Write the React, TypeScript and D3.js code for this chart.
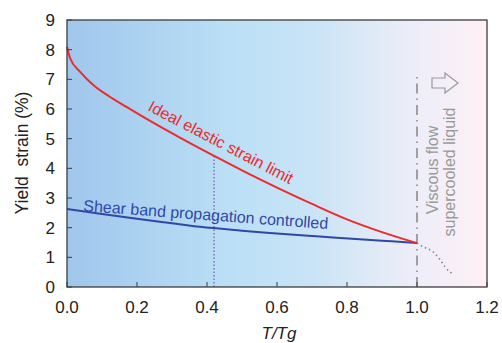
import React from "react";
import * as d3 from "d3";

const xTicks = [0, 0.2, 0.4, 0.6, 0.8, 1.0, 1.2];
const yTicks = [0, 1, 2, 3, 4, 5, 6, 7, 8, 9];

// ideal elastic strain limit (red)
const idealX = [0, 0.009, 0.037, 0.075, 0.12, 0.17, 0.22, 0.27, 0.32, 0.37, 0.42, 0.5, 0.6, 0.7, 0.8, 0.9, 1.0];
const idealY = [8.1, 7.71, 7.26, 6.81, 6.43, 6.07, 5.72, 5.38, 5.05, 4.73, 4.42, 3.93, 3.35, 2.8, 2.28, 1.85, 1.48];

// shear band propagation controlled (blue)
const shearX = [0, 0.1, 0.2, 0.3, 0.38, 0.5, 0.57, 0.7, 0.76, 0.9, 1.0];
const shearY = [2.63, 2.46, 2.3, 2.15, 2.03, 1.9, 1.83, 1.72, 1.67, 1.56, 1.48];

// supercooled liquid (grey dotted)
const liquidX = [1.0, 1.017, 1.046, 1.066, 1.08, 1.094, 1.103];
const liquidY = [1.48, 1.36, 1.18, 0.92, 0.68, 0.51, 0.44];

const markerX = 0.42;
const tgX = 1.0;
const tgTop = 7.15;

export default function App() {
  const left = 67, right = 487, top = 20, bottom = 287;
  const x = d3.scaleLinear().domain([0, 1.2]).range([left, right]);
  const y = d3.scaleLinear().domain([0, 9]).range([bottom, top]);

  const line = d3
    .line<[number, number]>()
    .x((d) => x(d[0]))
    .y((d) => y(d[1]))
    .curve(d3.curveMonotoneX);

  const pts = (xs: number[], ys: number[]) => xs.map((v, i) => [v, ys[i]] as [number, number]);

  const font = "Liberation Sans, Arial, Helvetica, sans-serif";
  const markerTop = idealY[idealX.indexOf(markerX)];

  return (
    <svg width={502} height={343} style={{ position: "absolute", left: 0, top: 0 }} fontFamily={font}>
      <defs>
        <linearGradient id="bg" x1="0" x2="1" y1="0" y2="0">
          <stop offset="0" stopColor="#a0c7ec" />
          <stop offset="0.4" stopColor="#bbe0f6" />
          <stop offset="0.6" stopColor="#cbe4f6" />
          <stop offset="0.75" stopColor="#e3ebf7" />
          <stop offset="0.85" stopColor="#efeef9" />
          <stop offset="1" stopColor="#fff0f4" />
        </linearGradient>
      </defs>
      <rect x={left} y={top} width={right - left} height={bottom - top} fill="url(#bg)" />

      {/* marker at 0.42 */}
      <line x1={x(markerX)} x2={x(markerX)} y1={y(0)} y2={y(markerTop)} stroke="#6a3d9a" strokeWidth={1} strokeDasharray="1.5,2" />

      {/* Tg line */}
      <line x1={x(tgX)} x2={x(tgX)} y1={y(0)} y2={y(tgTop)} stroke="#8c8c8c" strokeWidth={1.6} strokeDasharray="10,5,1.5,5" />

      <path d={line(pts(liquidX, liquidY)) || ""} fill="none" stroke="#888" strokeWidth={1.6} strokeDasharray="1.5,3" />
      <path d={line(pts(shearX, shearY)) || ""} fill="none" stroke="#3047a8" strokeWidth={2} />
      <path d={line(pts(idealX, idealY)) || ""} fill="none" stroke="#ee2a2a" strokeWidth={2} />

      {/* frame */}
      <rect x={left} y={top} width={right - left} height={bottom - top} fill="none" stroke="#3c3c3c" strokeWidth={1.3} />

      {xTicks.map((t) => (
        <g key={"x" + t}>
          <line x1={x(t)} x2={x(t)} y1={bottom} y2={bottom - 5} stroke="#3c3c3c" />
          <text x={x(t)} y={bottom + 26} fontSize={17} textAnchor="middle" fill="#222">{t.toFixed(1)}</text>
        </g>
      ))}
      {yTicks.map((t) => (
        <g key={"y" + t}>
          <line x1={left} x2={left + 5} y1={y(t)} y2={y(t)} stroke="#3c3c3c" />
          <text x={left - 12} y={y(t) + 6} fontSize={17} textAnchor="end" fill="#222">{t}</text>
        </g>
      ))}

      <text x={279} y={339} fontSize={17} textAnchor="middle" fontStyle="italic" fill="#222">T/Tg</text>
      <text transform="translate(28,153) rotate(-90)" fontSize={17.5} textAnchor="middle" fill="#222" style={{ whiteSpace: "pre" }}>Yield  strain (%)</text>

      <text transform="translate(147,110) rotate(27.5)" fontSize={16} fill="#ee2a2a">Ideal elastic strain limit</text>
      <text transform="translate(83,211) rotate(4.2)" fontSize={16} fill="#3047a8">Shear band propagation controlled</text>

      <text transform="translate(438,170) rotate(-90)" fontSize={16} textAnchor="middle" fill="#9a9a9a">Viscous flow</text>
      <text transform="translate(455,172) rotate(-90)" fontSize={16} textAnchor="middle" fill="#9a9a9a">supercooled liquid</text>

      <path d="M432,78 L445,78 L445,73 L458,83 L445,93 L445,88 L432,88 Z" fill="none" stroke="#9a9a9a" strokeWidth={1.2} />
    </svg>
  );
}
